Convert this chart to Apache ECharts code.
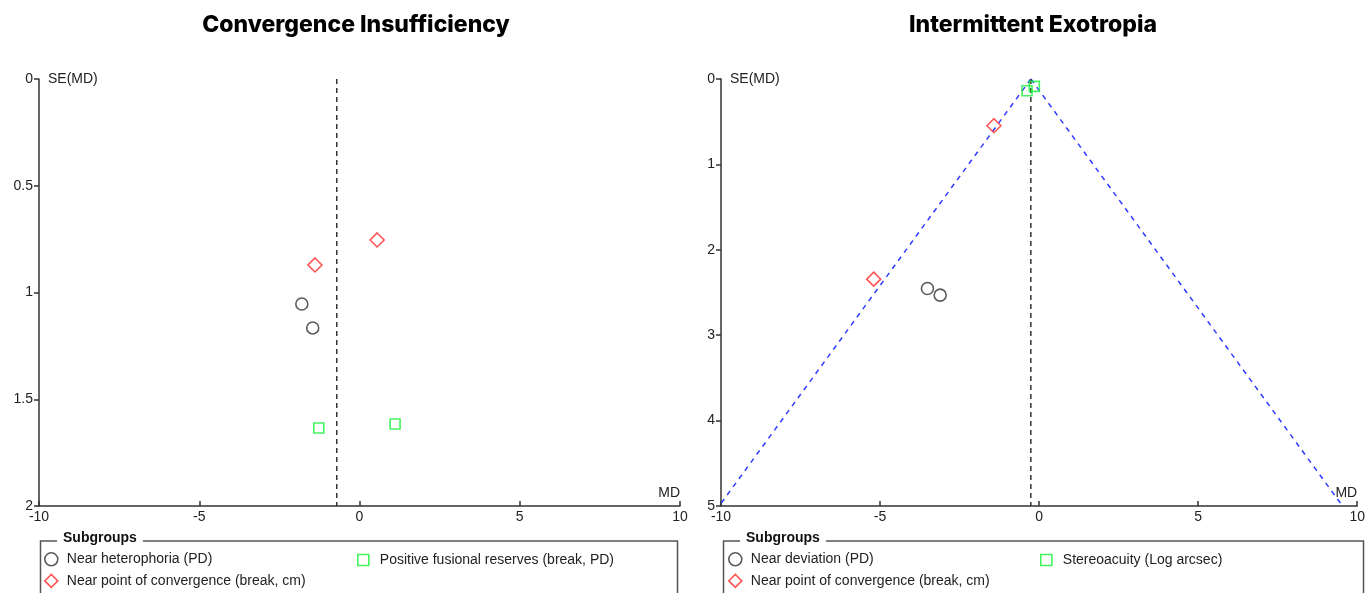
<!DOCTYPE html>
<html>
<head>
<meta charset="utf-8">
<script src="https://cdn.jsdelivr.net/npm/echarts@6.0.0/dist/echarts.min.js"></script>
<style>
html,body{margin:0;padding:0;background:#fff;}
#chart{width:1368px;height:593px;}
</style>
</head>
<body>
<div id="chart"></div>
<script>
// ---------- Data: Convergence Insufficiency ----------
const ciTitle = 'Convergence Insufficiency';
const ciHeterophoriaMD = [-1.80, -1.46];
const ciHeterophoriaSE = [1.054, 1.166];
const ciNPCMD = [0.55, -1.39];
const ciNPCSE = [0.754, 0.871];
const ciPFRMD = [-1.27, 1.11];
const ciPFRSE = [1.635, 1.616];
const ciPooledMD = -0.71;
const ciSEMax = 2;
const ciSETicks = [0, 0.5, 1, 1.5, 2];

// ---------- Data: Intermittent Exotropia ----------
const ixtTitle = 'Intermittent Exotropia';
const ixtDeviationMD = [-3.51, -3.11];
const ixtDeviationSE = [2.453, 2.531];
const ixtNPCMD = [-1.42, -5.20];
const ixtNPCSE = [0.547, 2.344];
const ixtStereoMD = [-0.38, -0.15];
const ixtStereoSE = [0.137, 0.086];
const ixtPooledMD = -0.26;
const ixtSEMax = 5;
const ixtFunnelSE = [0, 5];
const ixtFunnelLeftMD = [-0.26, -10.06];
const ixtFunnelRightMD = [-0.26, 9.54];
const ixtSETicks = [0, 1, 2, 3, 4, 5];

const mdTicks = [-10, -5, 0, 5, 10];

// ---------- Legend names ----------
const nHetero = 'Near heterophoria (PD)';
const nNPC = 'Near point of convergence (break, cm)';
const nPFR = 'Positive fusional reserves (break, PD)';
const nDev = 'Near deviation (PD)';
const nStereo = 'Stereoacuity (Log arcsec)';

const FONT = '"Liberation Sans", Arial, sans-serif';
const BLACK = '#333333';
const RED = '#ff2a2a';
const GREEN = '#14f03a';
const BLUE = '#2f3cff';

const pairs = (xs, ys) => xs.map((x, i) => [x, ys[i]]);

const styles = {
  circle: {symbol: 'circle', symbolSize: 12, itemStyle: {color: 'rgba(0,0,0,0)', borderColor: BLACK, borderWidth: 1.6}},
  diamond: {symbol: 'diamond', symbolSize: 14, itemStyle: {color: 'rgba(0,0,0,0)', borderColor: RED, borderWidth: 1.6}},
  square: {symbol: 'rect', symbolSize: 10, itemStyle: {color: 'rgba(0,0,0,0)', borderColor: GREEN, borderWidth: 1.6}}
};

function scatter(name, xs, ys, st, idx) {
  return Object.assign({
    type: 'scatter', name: name, data: pairs(xs, ys),
    xAxisIndex: idx, yAxisIndex: idx, z: 5
  }, st);
}
function line(xs, ys, color, idx, dash) {
  return {
    type: 'line', data: pairs(xs, ys), xAxisIndex: idx, yAxisIndex: idx,
    symbol: 'none', z: 3, silent: true,
    lineStyle: {color: color, width: 1.5, type: dash}
  };
}
function legendItem(name, st) {
  return {name: name, icon: st.symbol, itemStyle: st.itemStyle};
}
function legend(left, top, size, items) {
  return {
    orient: 'vertical', left: left, top: top, padding: 0,
    itemWidth: size, itemHeight: size, itemGap: 20 - size, selectedMode: false,
    textStyle: {fontFamily: FONT, fontSize: 14, color: '#222', padding: [0, 0, 0, 17 - size]},
    data: items
  };
}
function xAxis(grid) {
  return {
    type: 'value', gridIndex: grid, min: mdTicks[0], max: mdTicks[mdTicks.length - 1], interval: 5,
    name: 'MD', nameLocation: 'end', nameGap: 0,
    nameTextStyle: {fontFamily: FONT, fontSize: 14, color: '#222', align: 'right', verticalAlign: 'bottom', padding: [0, 0, 6, 0]},
    axisLine: {onZero: false, lineStyle: {color: BLACK, width: 1.5}},
    axisTick: {inside: true, length: 5, lineStyle: {color: BLACK, width: 1.5}},
    axisLabel: {fontFamily: FONT, fontSize: 14, color: '#222', margin: 4},
    splitLine: {show: false}
  };
}
function yAxis(grid, max, interval) {
  return {
    type: 'value', gridIndex: grid, min: 0, max: max, interval: interval, inverse: true,
    position: 'left',
    name: 'SE(MD)', nameLocation: 'start', nameGap: 0,
    nameTextStyle: {fontFamily: FONT, fontSize: 14, color: '#222', align: 'left', verticalAlign: 'middle', padding: [0, 0, 0, 9]},
    axisLine: {show: true, onZero: false, lineStyle: {color: BLACK, width: 1.5}},
    axisTick: {show: true, length: 5, lineStyle: {color: BLACK, width: 1.5}},
    axisLabel: {fontFamily: FONT, fontSize: 14, color: '#222', margin: 6},
    splitLine: {show: false}
  };
}
function box(x, w) {
  return [
    {type: 'rect', left: x, top: 538.5, shape: {width: w, height: 80}, silent: true,
     style: {fill: 'none', stroke: '#555', lineWidth: 1.5}, z: 1},
    {type: 'text', left: x + 19, top: 531, silent: true, z: 2,
     style: {text: 'Subgroups', font: 'bold 14px ' + FONT, fill: '#111',
             backgroundColor: '#fff', padding: [0, 6, 0, 6]}}
  ];
}

const chart = echarts.init(document.getElementById('chart'), null, {renderer: 'canvas'});
chart.setOption({
  animation: false,
  backgroundColor: '#fff',
  title: [
    {text: ciTitle, left: 351, top: 9, textAlign: 'center',
     textStyle: {fontFamily: 'Inter, sans-serif', fontWeight: 800, fontSize: 23, color: '#000'}},
    {text: ixtTitle, left: 1028, top: 9, textAlign: 'center',
     textStyle: {fontFamily: 'Inter, sans-serif', fontWeight: 800, fontSize: 23, color: '#000'}}
  ],
  grid: [
    {left: 39, top: 79, width: 641, height: 427},
    {left: 721, top: 79, width: 641, height: 427}
  ],
  xAxis: [xAxis(0), xAxis(1)],
  yAxis: [yAxis(0, ciSEMax, 0.5), yAxis(1, ixtSEMax, 1)],
  legend: [
    legend(44, 552, 13, [legendItem(nHetero, styles.circle), legendItem(nNPC, styles.diamond)]),
    legend(357, 553, 11, [legendItem(nPFR, styles.square)]),
    legend(728, 552, 13, [legendItem(nDev, styles.circle), legendItem(nNPC, styles.diamond)]),
    legend(1040, 553, 11, [legendItem(nStereo, styles.square)])
  ],
  graphic: box(38, 637).concat(box(721, 640)),
  series: [
    line([ciPooledMD, ciPooledMD], [0, ciSEMax], BLACK, 0, [5, 4]),
    scatter(nHetero, ciHeterophoriaMD, ciHeterophoriaSE, styles.circle, 0),
    scatter(nNPC, ciNPCMD, ciNPCSE, styles.diamond, 0),
    scatter(nPFR, ciPFRMD, ciPFRSE, styles.square, 0),

    line(ixtFunnelLeftMD, ixtFunnelSE, BLUE, 1, [5, 5]),
    line(ixtFunnelRightMD, ixtFunnelSE, BLUE, 1, [5, 5]),
    line([ixtPooledMD, ixtPooledMD], [0, ixtSEMax], BLACK, 1, [5, 4]),
    scatter(nDev, ixtDeviationMD, ixtDeviationSE, styles.circle, 1),
    scatter(nNPC, ixtNPCMD, ixtNPCSE, styles.diamond, 1),
    scatter(nStereo, ixtStereoMD, ixtStereoSE, styles.square, 1)
  ]
});
</script>
</body>
</html>
